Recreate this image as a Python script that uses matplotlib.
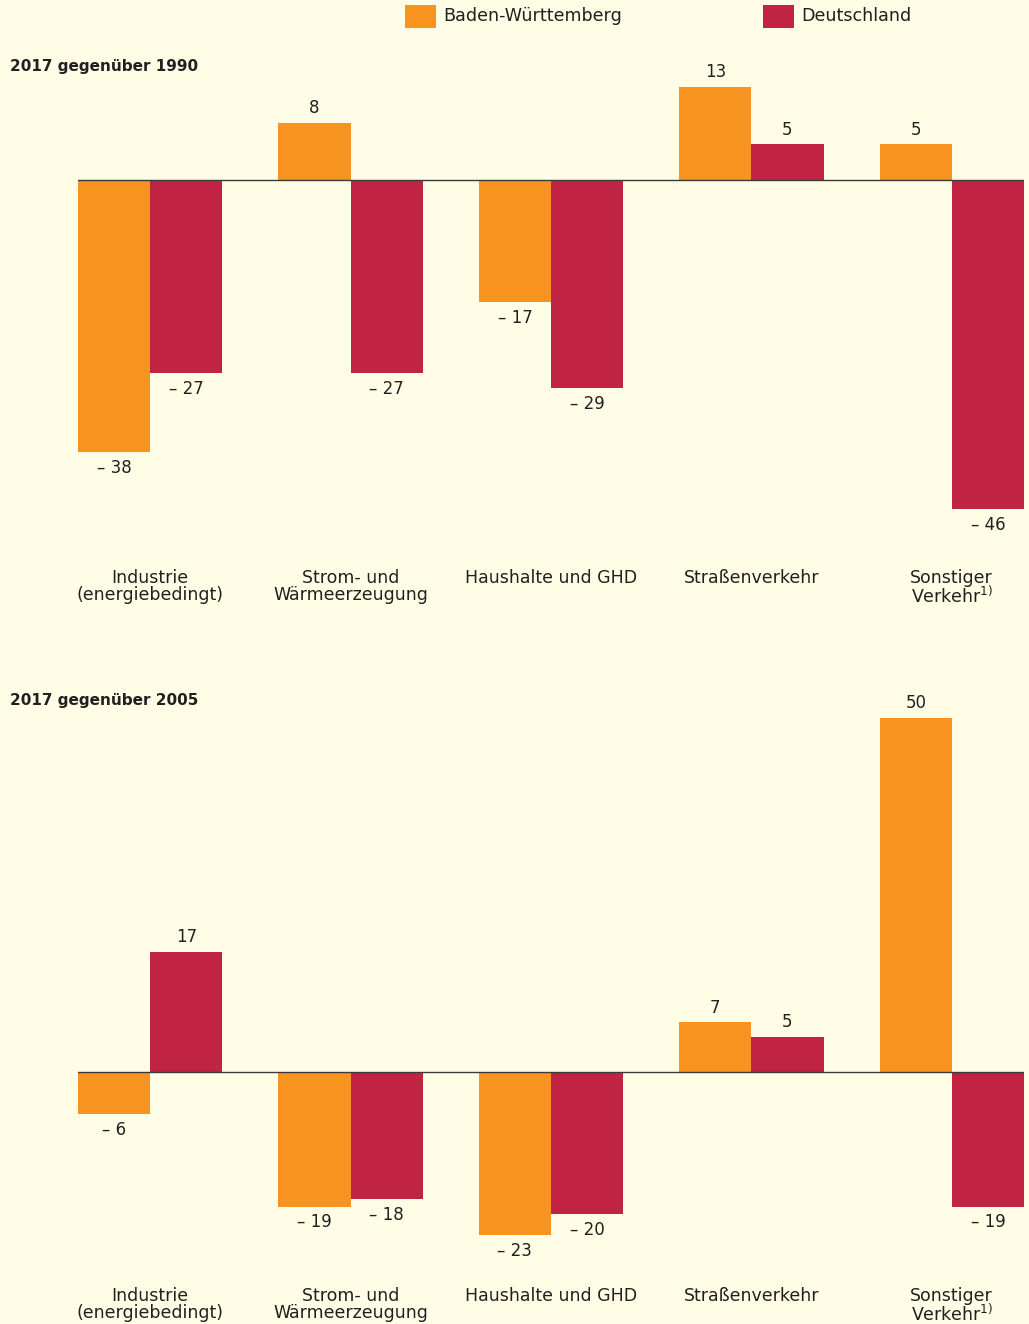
import numpy as np
import matplotlib.pyplot as plt
from matplotlib.patches import Rectangle

plt.rcParams['font.family'] = ['DejaVu Sans']
plt.rcParams['mathtext.fontset'] = 'dejavusans'

categories = ['Industrie\n(energiebedingt)', 'Strom- und\nWärmeerzeugung',
              'Haushalte und GHD', 'Straßenverkehr', 'Sonstiger\nVerkehr$^{1)}$']
bw_1990 = [-38, 8, -17, 13, 5]
de_1990 = [-27, -27, -29, 5, -46]
bw_2005 = [-6, -19, -23, 7, 50]
de_2005 = [17, -18, -20, 5, -19]
titles = ['2017 gegenüber 1990', '2017 gegenüber 2005']
series_names = ['Baden-Württemberg', 'Deutschland']

ORANGE = '#F7931E'
RED = '#C02442'
BG = '#FFFDE6'
TXT = '#231F20'

W, H = 1029, 1324
fig = plt.figure(figsize=(W / 100, H / 100), dpi=100, facecolor=BG)


def px_axes(x0, x1, y_top, y_bot):
    return fig.add_axes([x0 / W, 1 - y_bot / H, (x1 - x0) / W, (y_bot - y_top) / H])


def fmt(v):
    return ('– %d' % -v) if v < 0 else '%d' % v


def panel(bw, de, zero_px, scale, y_top, y_bot, title, title_y, cat_y):
    ax = px_axes(78, 1024, y_top, y_bot)
    ax.set_facecolor('none')
    ax.set_xlim(-0.36, 4.36)
    ax.set_ylim(-(y_bot - zero_px) / scale, (zero_px - y_top) / scale)
    x = np.arange(len(categories))
    width = 0.36
    for vals, off, col in [(bw, -width / 2, ORANGE), (de, width / 2, RED)]:
        ax.bar(x + off, vals, width, color=col, linewidth=0, zorder=2)
        for xi, v in zip(x + off, vals):
            if v >= 0:
                ax.annotate(fmt(v), (xi, v), xytext=(0, 4), textcoords='offset points',
                            ha='center', va='bottom', fontsize=12, color=TXT)
            else:
                ax.annotate(fmt(v), (xi, v), xytext=(0, -5), textcoords='offset points',
                            ha='center', va='top', fontsize=12, color=TXT)
    ax.axhline(0, color='#3a3a3a', lw=1.0, zorder=3)
    ax.axis('off')
    fig.text(10 / W, 1 - title_y / H, title, fontsize=11, fontweight='bold',
             color=TXT, ha='left', va='center')
    for i, c in enumerate(categories):
        xc = (78 + (i + 0.36) * 200.4) / W
        fig.text(xc, 1 - cat_y / H, c, fontsize=12.5, color=TXT, ha='center', va='top',
                 linespacing=0.92)


panel(bw_1990, de_1990, 180, 7.16, 60, 560, titles[0], 66, 569)
panel(bw_2005, de_2005, 1072, 7.08, 700, 1270, titles[1], 700, 1287)

# legend
for (x0, name, col) in [(405, series_names[0], ORANGE), (763, series_names[1], RED)]:
    fig.add_artist(Rectangle((x0 / W, 1 - 28 / H), 31 / W, 23 / H, transform=fig.transFigure,
                             facecolor=col, edgecolor='none'))
    fig.text((x0 + 38) / W, 1 - 16 / H, name, fontsize=12.6, color=TXT, ha='left', va='center')

plt.savefig('out.png', dpi=100, facecolor=BG)
